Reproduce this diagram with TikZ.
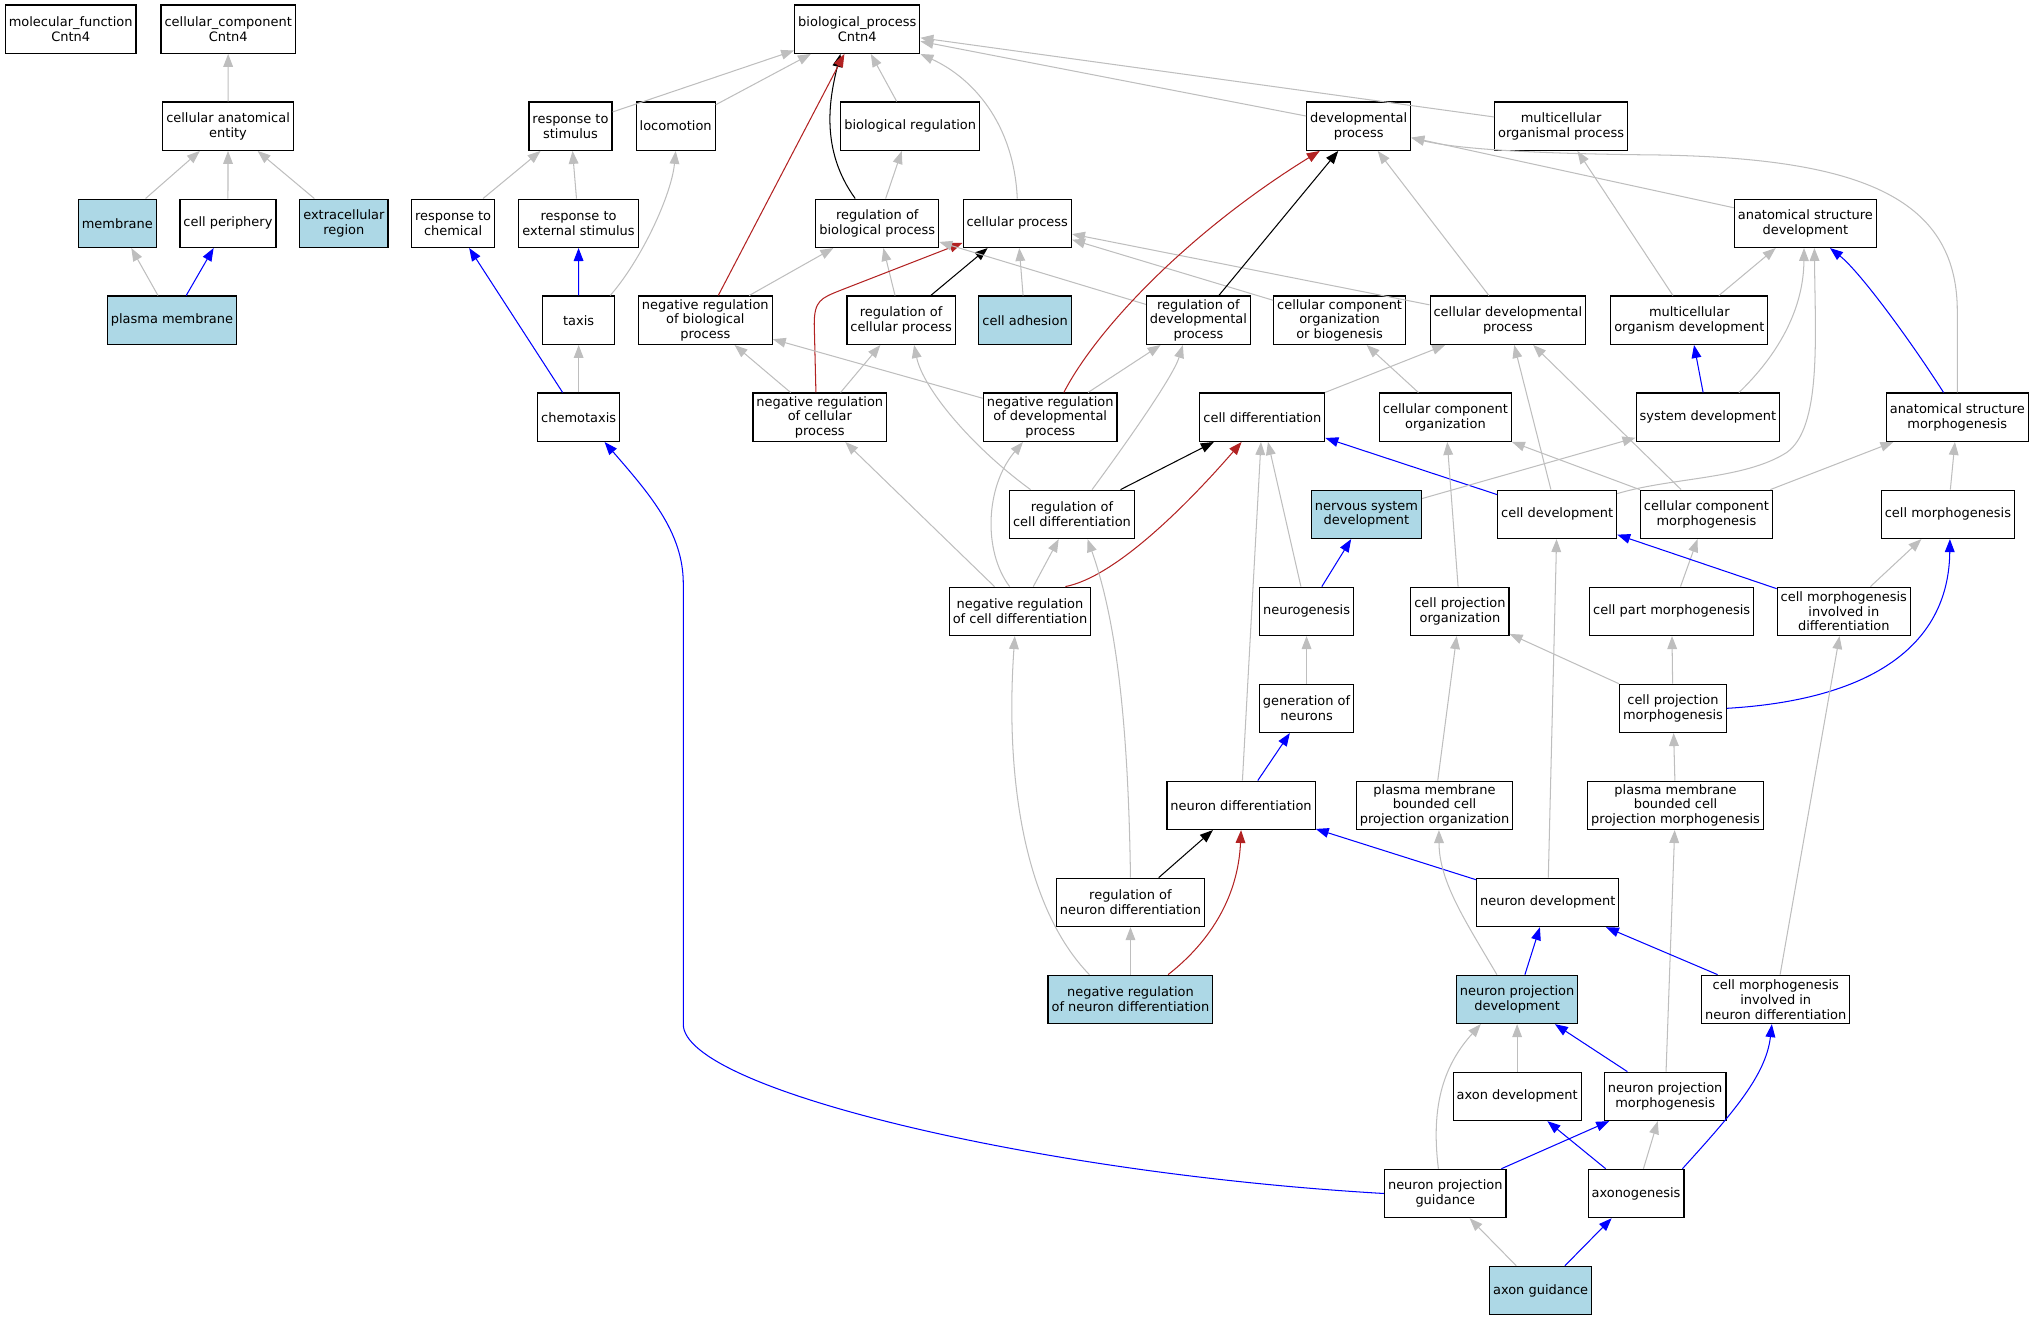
\documentclass[tikz,border=0pt]{standalone}
\usepackage{fontspec}
\setmainfont{DejaVu Sans}
\usetikzlibrary{arrows.meta}
\definecolor{edgegray}{RGB}{190,190,190}
\definecolor{hitblue}{RGB}{173,216,230}
\definecolor{negred}{RGB}{178,34,34}

\begin{document}
\begin{tikzpicture}[x=1pt,y=-1pt,
  term/.style={draw=black,line width=0.9pt,fill=white,align=center,
    minimum width=55.8pt,minimum height=37.3pt,inner xsep=2.7pt,inner ysep=1pt,
    font=\fontsize{10}{11.4}\selectfont},
  hit/.style={term,fill=hitblue},
  isa/.style={draw=edgegray,line width=0.8pt,-{Triangle[length=10pt,width=7.5pt]}},
  partof/.style={isa,draw=blue},
  regby/.style={isa,draw=black},
  negreg/.style={isa,draw=negred}]
\useasboundingbox (0,0) rectangle (1568,1018.1);
% Root terms
\node[term] (mf) at (54.5,22.5) {molecular\_function\\Cntn4};
\node[term] (cc) at (176,22.5) {cellular\_component\\Cntn4};
\node[term] (bp) at (661.2,22.5) {biological\_process\\Cntn4};
% Second level
\node[term] (cae) at (175.9,97.3) {cellular anatomical\\entity};
\node[term] (rts) at (440,97.3) {response to\\stimulus};
\node[term] (loc) at (521.1,97.3) {locomotion};
\node[term] (breg) at (702,97.3) {biological regulation};
\node[term] (dev) at (1047.9,97.3) {developmental\\process};
\node[term] (mop) at (1204,97.3) {multicellular\\organismal process};
%
\node[hit] (mem) at (90.5,172.2) {membrane};
\node[term] (cper) at (175.8,172.2) {cell periphery};
\node[hit] (extr) at (265.2,172.2) {extracellular\\region};
\node[term] (rtc) at (349.5,172.2) {response to\\chemical};
\node[term] (rtes) at (446.2,172.2) {response to\\external stimulus};
\node[term] (rbp) at (676.6,172.2) {regulation of\\biological process};
\node[term] (cp) at (784.6,172.2) {cellular process};
\node[term] (asd) at (1392.4,172.2) {anatomical structure\\development};
%
\node[hit] (pm) at (132.6,247) {plasma membrane};
\node[term] (taxis) at (446.3,247) {taxis};
\node[term] (nrbp) at (544,247) {negative regulation\\of biological\\process};
\node[term] (rcp) at (695,247) {regulation of\\cellular process};
\node[hit] (cadh) at (790.6,247) {cell adhesion};
\node[term] (rdp) at (924.3,247) {regulation of\\developmental\\process};
\node[term] (ccob) at (1033.2,247) {cellular component\\organization\\or biogenesis};
\node[term] (cdp) at (1163,247) {cellular developmental\\process};
\node[term] (mod) at (1302.9,247) {multicellular\\organism development};
%
\node[term] (chem) at (446.3,321.8) {chemotaxis};
\node[term] (nrcp) at (632.3,321.8) {negative regulation\\of cellular\\process};
\node[term] (nrdp) at (810,321.8) {negative regulation\\of developmental\\process};
\node[term] (cdiff) at (973.6,321.8) {cell differentiation};
\node[term] (cco) at (1114.8,321.8) {cellular component\\organization};
\node[term] (sysd) at (1317.2,321.8) {system development};
\node[term] (asm) at (1509.6,321.8) {anatomical structure\\morphogenesis};
%
\node[term] (rcd) at (826.8,396.7) {regulation of\\cell differentiation};
\node[hit] (nsd) at (1053.9,396.7) {nervous system\\development};
\node[term] (cdev) at (1201,396.7) {cell development};
\node[term] (ccm) at (1316.1,396.7) {cellular component\\morphogenesis};
\node[term] (cmorph) at (1502.4,396.7) {cell morphogenesis};
%
\node[term] (nrcd) at (786.7,471.5) {negative regulation\\of cell differentiation};
\node[term] (neurog) at (1007.7,471.5) {neurogenesis};
\node[term] (cpo) at (1126,471.5) {cell projection\\organization};
\node[term] (cpm) at (1289.3,471.5) {cell part morphogenesis};
\node[term] (cmid) at (1422.1,471.5) {cell morphogenesis\\involved in\\differentiation};
%
\node[term] (gen) at (1007.7,546.3) {generation of\\neurons};
\node[term] (cpmorph) at (1290.3,546.3) {cell projection\\morphogenesis};
%
\node[term] (nd) at (957.2,621.1) {neuron differentiation};
\node[term] (pmbcpo) at (1106.4,621.1) {plasma membrane\\bounded cell\\projection organization};
\node[term] (pmbcpm) at (1292.3,621.1) {plasma membrane\\bounded cell\\projection morphogenesis};
%
\node[term] (rnd) at (871.9,696) {regulation of\\neuron differentiation};
\node[term] (ndev) at (1193.7,696) {neuron development};
%
\node[hit] (nrnd) at (871.9,770.8) {negative regulation\\of neuron differentiation};
\node[hit] (npd) at (1170.1,770.8) {neuron projection\\development};
\node[term] (cmind) at (1369.6,770.8) {cell morphogenesis\\involved in\\neuron differentiation};
%
\node[term] (axd) at (1170.1,845.6) {axon development};
\node[term] (npm) at (1284.3,845.6) {neuron projection\\morphogenesis};
\node[term] (npg) at (1114.7,920.5) {neuron projection\\guidance};
\node[term] (axg) at (1261.8,920.5) {axonogenesis};
\node[hit] (axguid) at (1188.2,995.3) {axon guidance};
%
% Cellular component edges
\draw[isa] (cae) -- (cc);
\draw[isa] (mem) -- (cae);
\draw[isa] (cper) -- (cae);
\draw[isa] (extr) -- (cae);
\draw[isa] (pm) -- (mem);
\draw[partof] (pm) -- (cper);
% Edges into biological_process
\draw[isa] (rts) -- (bp);
\draw[isa] (loc) -- (bp);
\draw[isa] (breg) -- (bp);
\draw[isa] (dev) -- (bp);
\draw[isa] (mop) -- (bp);
\draw[isa] (cp.north) .. controls (782,95) and (750,60) .. (bp.south east);
\draw[regby] ([xshift=-17pt]rbp.north) .. controls (632,115) and (640,75) .. ([xshift=-13pt]bp.south);
\draw[negreg] (nrbp) -- (bp);
% Response and locomotion
\draw[isa] (rtc) -- (rts);
\draw[isa] (rtes) -- (rts);
\draw[partof] (taxis) -- (rtes);
\draw[isa] ([xshift=-4pt]taxis.north east) .. controls (495,200) and (518,150) .. (loc.south);
\draw[isa] (chem) -- (taxis);
\draw[partof] (chem) -- (rtc);
\draw[partof] (npg.west) .. controls (800,905) and (527,840) .. (527,790) -- (527,450)
  .. controls (527,410) and (500,380) .. ([xshift=20pt]chem.south);
% Regulation terms
\draw[isa] (rbp) -- (breg);
\draw[isa] (rcp) -- (rbp);
\draw[regby] (rcp) -- (cp);
\draw[isa] (nrbp) -- (rbp);
\draw[isa] (cadh) -- (cp);
\draw[negreg] ([xshift=-3pt]nrcp.north) -- (628,250) .. controls (628,232) and (633,230) .. (648,224)
  -- ([yshift=4pt]cp.south west);
\draw[isa] (rdp) -- (rbp);
\draw[isa] (ccob) -- (cp);
\draw[isa] (cdp) -- (cp);
\draw[regby] (rdp) -- (dev);
\draw[negreg] ([xshift=10.5pt]nrdp.north) .. controls (845,255) and (915,180) .. ([xshift=-30pt]dev.south);
\draw[isa] (nrdp) -- (rdp);
\draw[isa] (nrdp) -- (nrbp);
\draw[isa] (nrcp) -- (nrbp);
\draw[isa] (nrcp) -- (rcp);
\draw[isa] ([xshift=-32pt]rcd.north) .. controls (750,345) and (712,300) .. ([xshift=10pt]rcp.south);
\draw[isa] ([xshift=15.5pt]rcd.north) .. controls (870,340) and (905,290) .. ([xshift=-12pt]rdp.south);
\draw[regby] (rcd) -- (cdiff);
\draw[isa] (nrcd) -- (rcd);
\draw[isa] (nrcd) -- (nrcp);
\draw[isa] ([xshift=-8pt]nrcd.north) .. controls (758,425) and (760,375) .. ([xshift=-21pt]nrdp.south);
\draw[negreg] ([xshift=35pt]nrcd.north) .. controls (860,445) and (915,390) .. ([xshift=-16pt]cdiff.south);
% Development terms
\draw[isa] (cdiff) -- (cdp);
\draw[isa] (cco) -- (ccob);
\draw[isa] (cdp) -- (dev);
\draw[isa] (asd) -- (dev);
\draw[isa] (asm.north) -- (1509.6,240) .. controls (1509.6,150) and (1430,122) .. (1277.6,119.5)
  .. controls (1170,118.5) and (1120,114) .. ([yshift=-9pt]dev.east);
\draw[isa] (mod) -- (mop);
\draw[isa] (mod) -- (asd);
\draw[partof] ([xshift=-10.6pt]asm.north) .. controls (1475,265) and (1435,210) .. ([xshift=19pt]asd.south);
\draw[partof] (sysd) -- (mod);
\draw[isa] ([xshift=24pt]sysd.north) .. controls (1370,275) and (1391,240) .. ([xshift=-1pt]asd.south);
\draw[isa] ([yshift=16pt]cdev.east) .. controls (1290,368) and (1345,370) .. (1378,349)
  .. controls (1405,330) and (1400,260) .. ([xshift=7pt]asd.south);
\draw[isa] (cdev) -- (cdp);
\draw[partof] (cdev) -- (cdiff);
\draw[isa] (ccm) -- (cdp);
\draw[isa] (ccm) -- (cco);
\draw[isa] (ccm) -- (asm);
\draw[isa] (nsd) -- (sysd);
\draw[isa] (cmorph) -- (asm);
\draw[isa] (cpm) -- (ccm);
\draw[partof] (cmid) -- (cdev);
\draw[isa] (cmid) -- (cmorph);
\draw[isa] (cpo) -- (cco);
\draw[isa] (cpmorph) -- (cpo);
\draw[isa] (cpmorph) -- (cpm);
\draw[partof] (cpmorph.east) .. controls (1440,540) and (1503,500) .. ([xshift=1.5pt]cmorph.south);
% Neuron terms
\draw[isa] (neurog) -- (cdiff);
\draw[partof] (neurog) -- (nsd);
\draw[isa] (gen) -- (neurog);
\draw[partof] (nd) -- (gen);
\draw[isa] (nd) -- (cdiff);
\draw[partof] (ndev) -- (nd);
\draw[isa] (ndev) -- (cdev);
\draw[regby] (rnd) -- (nd);
\draw[isa] (rnd.north) .. controls (870,540) and (858,470) .. ([xshift=12pt]rcd.south);
\draw[negreg] ([xshift=29pt]nrnd.north) .. controls (935,725) and (955,690) .. (nd.south);
\draw[isa] (nrnd) -- (rnd);
\draw[isa] ([xshift=-31.7pt]nrnd.north) .. controls (790,700) and (775,600) .. ([xshift=-4pt]nrcd.south);
\draw[isa] ([xshift=-15.6pt]npd.north) .. controls (1130,710) and (1110,680) .. ([xshift=3.4pt]pmbcpo.south);
\draw[partof] (npd) -- (ndev);
\draw[isa] (axd) -- (npd);
\draw[partof] (npm) -- (npd);
\draw[isa] (npm) -- (pmbcpm);
\draw[partof] (npg) -- (npm);
\draw[isa] ([xshift=-5.3pt]npg.north) .. controls (1103,850) and (1115,820) .. ([xshift=-28pt]npd.south);
\draw[isa] (axg) -- (npm);
\draw[partof] (axg) -- (axd);
\draw[partof] ([xshift=-1.6pt]axg.north east) .. controls (1335,860) and (1362,830) .. ([xshift=-3pt]cmind.south);
\draw[partof] (cmind) -- (ndev);
\draw[isa] (cmind) -- (cmid);
\draw[isa] (pmbcpo) -- (cpo);
\draw[isa] (pmbcpm) -- (cpmorph);
\draw[isa] (axguid) -- (npg);
\draw[partof] (axguid) -- (axg);
\end{tikzpicture}
\end{document}
